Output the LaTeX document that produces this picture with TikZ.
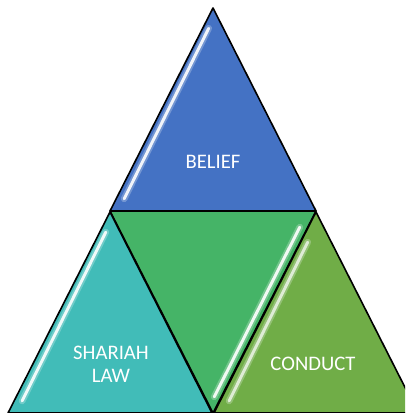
\documentclass[tikz,border=0pt]{standalone}
\usepackage{fontspec}
\setmainfont{Carlito}
\usetikzlibrary{calc}
\definecolor{cblue}{HTML}{4472C4}
\definecolor{cteal}{HTML}{41BCB8}
\definecolor{cgreen}{HTML}{45B467}
\definecolor{colive}{HTML}{70AD47}
\tikzset{
  tri/.style={draw=black, line width=1.2pt, line join=round},
  glowA/.style={white, line width=5pt, opacity=0.25, line cap=round},
  glowB/.style={white, line width=2.2pt, opacity=0.9, line cap=round},
  lbl/.style={text=white, font=\fontsize{15.5}{17.5}\selectfont, align=center, inner sep=0pt}
}
\begin{document}
\begin{tikzpicture}[x=0.75pt,y=-0.75pt]
\useasboundingbox (0,0) rectangle (405,413);
\clip (0,0) rectangle (405,413);
% coordinates
\coordinate (TA) at (213,8);
\coordinate (TB) at (110,211);
\coordinate (TC) at (316,211);
\coordinate (LA) at (110,212);
\coordinate (LB) at (8,413);
\coordinate (LC) at (212,413);
\coordinate (RA) at (316,212);
\coordinate (RB) at (214,413);
\coordinate (RC) at (418,413);
\coordinate (MB) at (213,413);
% top
\path[tri, fill=cblue] (TA) -- (TB) -- (TC) -- cycle;
\draw[glowA] ($(TB)!0.06!(TA)+(8,0)$) -- ($(TB)!0.9!(TA)+(6,0)$);
\draw[glowB] ($(TB)!0.06!(TA)+(8,0)$) -- ($(TB)!0.9!(TA)+(6,0)$);
% middle
\path[tri, fill=cgreen] (TB) -- (TC) -- (MB) -- cycle;
\draw[glowA] ($(MB)!0.08!(TC)+(-7,0)$) -- ($(MB)!0.92!(TC)+(-8,0)$);
\draw[glowB] ($(MB)!0.08!(TC)+(-7,0)$) -- ($(MB)!0.92!(TC)+(-8,0)$);
% left
\path[tri, fill=cteal] (LA) -- (LB) -- (LC) -- cycle;
\draw[glowA] ($(LB)!0.06!(LA)+(8,0)$) -- ($(LB)!0.9!(LA)+(6,0)$);
\draw[glowB] ($(LB)!0.06!(LA)+(8,0)$) -- ($(LB)!0.9!(LA)+(6,0)$);
% right
\path[tri, fill=colive] (RA) -- (RB) -- (RC) -- cycle;
\draw[glowA] ($(RB)!0.06!(RA)+(9,0)$) -- ($(RB)!0.85!(RA)+(7,0)$);
\draw[glowB, opacity=0.7] ($(RB)!0.06!(RA)+(9,0)$) -- ($(RB)!0.85!(RA)+(7,0)$);
% labels
\node[lbl] (belief) at (213,162) {BELIEF};
\node[lbl] (shariah) at (111,364) {SHARIAH\\LAW};
\node[lbl] (conduct) at (313,364) {CONDUCT};
\end{tikzpicture}
\end{document}
